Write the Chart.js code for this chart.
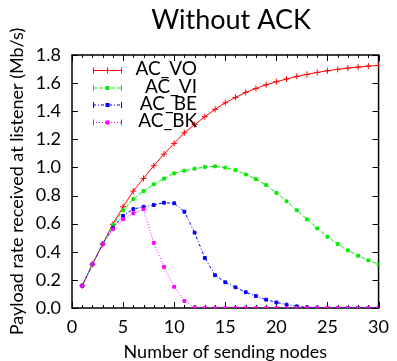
<!DOCTYPE html>
<html>
<head>
<meta charset="utf-8">
<script src="https://cdn.jsdelivr.net/npm/chart.js@4"></script>
<style>
  html, body { margin: 0; padding: 0; background: #fff; }
  #wrap { width: 397px; height: 361px; }
</style>
</head>
<body>
<div id="wrap"><canvas id="c" width="397" height="361"></canvas></div>
<script>
// Number of sending nodes
const nodes = [1, 2, 3, 4, 5, 6, 7, 8, 9, 10, 11, 12, 13, 14, 15,
               16, 17, 18, 19, 20, 21, 22, 23, 24, 25, 26, 27, 28, 29, 30];

// Payload rate received at listener (Mb/s), one array per access category
const acVO = [0.158, 0.311, 0.455, 0.595, 0.720, 0.832, 0.922, 1.012, 1.095, 1.171,
              1.247, 1.305, 1.361, 1.413, 1.460, 1.498, 1.534, 1.562, 1.588, 1.610,
              1.629, 1.648, 1.662, 1.676, 1.688, 1.698, 1.707, 1.714, 1.721, 1.726];
const acVI = [0.158, 0.311, 0.455, 0.590, 0.695, 0.775, 0.832, 0.880, 0.920, 0.958,
              0.977, 0.991, 1.003, 1.008, 0.999, 0.981, 0.950, 0.917, 0.875, 0.820,
              0.759, 0.695, 0.631, 0.567, 0.507, 0.455, 0.410, 0.372, 0.339, 0.311];
const acBE = [0.158, 0.311, 0.455, 0.571, 0.656, 0.704, 0.720, 0.733, 0.749, 0.745,
              0.685, 0.536, 0.356, 0.233, 0.183, 0.147, 0.112, 0.085, 0.059, 0.040,
              0.024, 0.012, 0.005, 0.002, 0.000, 0.000, 0.000, 0.000, 0.000, 0.000];
const acBK = [0.158, 0.311, 0.455, 0.560, 0.631, 0.674, 0.702, 0.464, 0.292, 0.151,
              0.050, 0.005, 0.000, 0.000, 0.000, 0.000, 0.000, 0.000, 0.000, 0.000,
              0.000, 0.000, 0.000, 0.000, 0.000, 0.000, 0.000, 0.000, 0.000, 0.000];

const seriesNames = ['AC_VO', 'AC_VI', 'AC_BE', 'AC_BK'];
const xTicks = [0, 5, 10, 15, 20, 25, 30];
const yTicks = [0.0, 0.2, 0.4, 0.6, 0.8, 1.0, 1.2, 1.4, 1.6, 1.8];

const FONT = 'Lato, "DejaVu Sans", sans-serif';

const styles = [
  { color: '#ff0000', dash: [],           point: 'cross', radius: 3,   order: 3 },
  { color: '#00ee00', dash: [4, 2],       point: 'rect',  radius: 2,   order: 2 },
  { color: '#0000ff', dash: [3, 2, 1, 2], point: 'rect',  radius: 2,   order: 1 },
  { color: '#ff00ff', dash: [1, 2],       point: 'rect',  radius: 2,   order: 0 }
];

const series = [acVO, acVI, acBE, acBK];
const datasets = series.map((vals, i) => ({
  label: seriesNames[i],
  data: nodes.map((n, k) => ({ x: n, y: vals[k] })),
  borderColor: styles[i].color,
  backgroundColor: styles[i].color,
  borderWidth: 1,
  borderDash: styles[i].dash,
  pointStyle: styles[i].point,
  pointRadius: styles[i].radius,
  pointBorderWidth: 1,
  pointBorderColor: styles[i].color,
  pointBackgroundColor: styles[i].color,
  tension: 0,
  fill: false,
  order: styles[i].order
}));

// Box frame with inward ticks on all four sides, mirrored like a gnuplot border
const framePlugin = {
  id: 'frame',
  beforeDatasetsDraw(chart) {
    const { ctx, chartArea: a, scales: { x, y } } = chart;
    ctx.save();
    ctx.strokeStyle = '#000';
    ctx.lineWidth = 1;
    // minor and major x ticks
    for (let v = 0; v <= 30; v++) {
      const px = Math.round(x.getPixelForValue(v)) + 0.5;
      const len = (v % 5 === 0) ? 6 : 3;
      ctx.beginPath();
      ctx.moveTo(px, a.bottom); ctx.lineTo(px, a.bottom - len);
      ctx.moveTo(px, a.top); ctx.lineTo(px, a.top + len);
      ctx.stroke();
    }
    yTicks.forEach(v => {
      const py = Math.round(y.getPixelForValue(v)) + 0.5;
      ctx.beginPath();
      ctx.moveTo(a.left, py); ctx.lineTo(a.left + 6, py);
      ctx.moveTo(a.right, py); ctx.lineTo(a.right - 6, py);
      ctx.stroke();
    });
    ctx.lineWidth = 1.5;
    ctx.strokeRect(a.left, a.top, a.right - a.left, a.bottom - a.top);
    ctx.restore();
  },
  afterDraw(chart) {
    const { ctx } = chart;
    ctx.save();
    // title
    ctx.fillStyle = '#000';
    ctx.font = '27px ' + FONT;
    ctx.textAlign = 'center';
    ctx.textBaseline = 'alphabetic';
    ctx.fillText('Without ACK', 231, 28.5);

    // key: sample line with end caps and marker, label right-aligned
    const rows = [70, 87.5, 104.5, 122];
    const x0 = 93, x1 = 122, xm = 107.5;
    ctx.font = '19px ' + FONT;
    ctx.textAlign = 'right';
    ctx.textBaseline = 'middle';
    chart.data.datasets.forEach((ds, i) => {
      const yy = rows[i] + 0.5;
      ctx.strokeStyle = ds.borderColor;
      ctx.fillStyle = ds.borderColor;
      ctx.lineWidth = 1;
      ctx.setLineDash(ds.borderDash);
      ctx.beginPath();
      ctx.moveTo(x0, yy); ctx.lineTo(x1, yy);
      ctx.stroke();
      ctx.setLineDash([]);
      ctx.beginPath();
      ctx.moveTo(x0 + 0.5, yy - 3); ctx.lineTo(x0 + 0.5, yy + 3);
      ctx.moveTo(x1 - 0.5, yy - 3); ctx.lineTo(x1 - 0.5, yy + 3);
      ctx.stroke();
      if (ds.pointStyle === 'cross') {
        ctx.beginPath();
        ctx.moveTo(xm, yy - 3); ctx.lineTo(xm, yy + 3);
        ctx.stroke();
      } else {
        ctx.fillRect(xm - 2, yy - 2, 4, 4);
      }
      ctx.fillStyle = '#000';
      ctx.fillText(ds.label, 197, rows[i] - 1);
    });
    ctx.restore();
  }
};

new Chart(document.getElementById('c'), {
  type: 'line',
  data: { datasets },
  plugins: [framePlugin],
  options: {
    responsive: false,
    animation: false,
    devicePixelRatio: 1,
    layout: { padding: { top: 55, right: 14, left: 0, bottom: 0 } },
    plugins: {
      legend: { display: false },
      title: { display: false },
      tooltip: { enabled: false }
    },
    scales: {
      x: {
        type: 'linear',
        min: 0, max: 30,
        afterBuildTicks: s => { s.ticks = xTicks.map(v => ({ value: v })); },
        afterFit: s => { s.height = 53; },
        grid: { display: false, drawTicks: false },
        border: { display: false },
        ticks: { color: '#000', padding: 8, maxRotation: 0, font: { family: FONT, size: 18 } },
        title: {
          display: true, text: 'Number of sending nodes', color: '#000',
          font: { family: FONT, size: 18 }, padding: { top: 0, bottom: -2 }
        }
      },
      y: {
        type: 'linear',
        min: 0, max: 1.8,
        afterBuildTicks: s => { s.ticks = yTicks.map(v => ({ value: v })); },
        afterFit: s => { s.width = 72; },
        grid: { display: false, drawTicks: false },
        border: { display: false },
        ticks: { color: '#000', padding: 11, font: { family: FONT, size: 18 },
                 callback: v => Number(v).toFixed(1) },
        title: {
          display: true, text: 'Payload rate received at listener (Mb/s)', color: '#000',
          font: { family: FONT, size: 18 }, padding: { top: 6, bottom: 0 }
        }
      }
    }
  }
});
</script>
</body>
</html>
